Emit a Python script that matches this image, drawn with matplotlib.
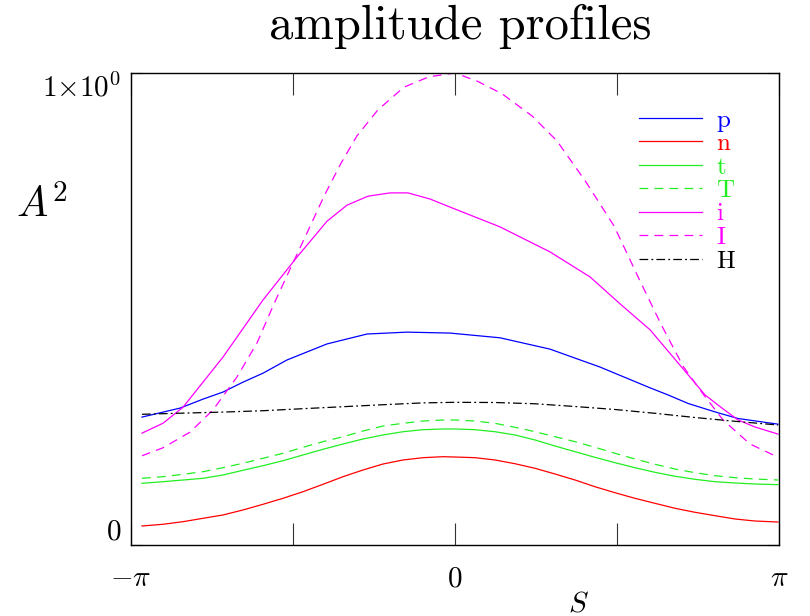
import matplotlib
matplotlib.use('Agg')
import matplotlib.pyplot as plt
import numpy as np

plt.rcParams['mathtext.fontset'] = 'cm'
plt.rcParams['font.family'] = ['cmr10', 'DejaVu Serif']

# common S grid for the smooth curves
s = [-3.035, -2.831, -2.637, -2.443, -2.250, -2.056, -1.862, -1.668,
     -1.474, -1.280, -1.086, -0.892, -0.698, -0.504, -0.310, -0.116,
     0.000, 0.194, 0.388, 0.582, 0.776, 0.970, 1.164, 1.357,
     1.551, 1.745, 1.939, 2.133, 2.327, 2.521, 2.715, 2.909, 3.132]
n_amp = [0.0403, 0.0439, 0.0494, 0.0566, 0.0636, 0.0742, 0.0862, 0.0989,
         0.1129, 0.1286, 0.1447, 0.1589, 0.1716, 0.1801, 0.1850, 0.1871,
         0.1864, 0.1850, 0.1801, 0.1722, 0.1625, 0.1504, 0.1377, 0.1235,
         0.1108, 0.0989, 0.0883, 0.0778, 0.0693, 0.0621, 0.0551, 0.0508, 0.0487]
t_amp = [0.1307, 0.1341, 0.1377, 0.1413, 0.1483, 0.1583, 0.1680, 0.1786,
         0.1907, 0.2028, 0.2140, 0.2246, 0.2331, 0.2400, 0.2443, 0.2458,
         0.2458, 0.2443, 0.2400, 0.2331, 0.2225, 0.2097, 0.1977, 0.1858,
         0.1744, 0.1638, 0.1540, 0.1456, 0.1392, 0.1341, 0.1314, 0.1292, 0.1278]
T_amp = [0.1413, 0.1447, 0.1498, 0.1553, 0.1638, 0.1731, 0.1837, 0.1943,
         0.2070, 0.2189, 0.2294, 0.2415, 0.2521, 0.2578, 0.2627, 0.2648,
         0.2648, 0.2627, 0.2578, 0.2494, 0.2400, 0.2294, 0.2189, 0.2070,
         0.1943, 0.1822, 0.1710, 0.1610, 0.1532, 0.1468, 0.1426, 0.1398, 0.1377]

s_H = [-3.035, -2.637, -2.250, -1.862, -1.474, -1.086, -0.698, -0.310,
       0.000, 0.388, 0.776, 1.164, 1.551, 1.939, 2.327, 2.715, 3.132]
H_amp = [0.2769, 0.2794, 0.2816, 0.2845, 0.2888, 0.2930, 0.2972, 0.3011,
         0.3023, 0.3019, 0.2992, 0.2934, 0.2871, 0.2790, 0.2701, 0.2621, 0.2542]

s_p = [-3.035, -2.667, -2.444, -2.250, -2.056, -1.862, -1.629, -1.435,
       -1.241, -0.853, -0.465, -0.049, 0.436, 0.921, 1.406, 1.891,
       2.065, 2.259, 2.521, 2.744, 3.132]
p_amp = [0.271, 0.290, 0.309, 0.324, 0.345, 0.364, 0.392, 0.409,
         0.426, 0.447, 0.451, 0.449, 0.439, 0.415, 0.377, 0.333,
         0.318, 0.300, 0.282, 0.268, 0.256]

s_i = [-3.035, -2.831, -2.637, -2.250, -1.862, -1.532, -1.241,
       -1.047, -0.844, -0.630, -0.456, -0.242, -0.049, 0.436, 0.921,
       1.309, 1.600, 1.891, 2.278, 2.424, 2.589, 2.744, 2.909, 3.132]
i_amp = [0.237, 0.258, 0.292, 0.398, 0.519, 0.610, 0.686,
         0.720, 0.739, 0.746, 0.746, 0.733, 0.716, 0.674, 0.621,
         0.568, 0.511, 0.456, 0.356, 0.318, 0.290, 0.265, 0.250, 0.235]

s_I = [-3.035, -2.831, -2.570, -2.347, -2.114, -1.920, -1.755, -1.590,
       -1.435, -1.270, -1.105, -0.950, -0.747, -0.495, -0.252, 0.000,
       0.213, 0.456, 0.747, 0.989, 1.270, 1.542, 1.784, 1.997,
       2.211, 2.405, 2.599, 2.860, 3.132]
I_amp = [0.189, 0.206, 0.239, 0.286, 0.356, 0.428, 0.511, 0.589,
         0.661, 0.739, 0.809, 0.867, 0.922, 0.970, 0.992, 1.000,
         0.983, 0.956, 0.909, 0.856, 0.769, 0.676, 0.564, 0.468,
         0.379, 0.320, 0.265, 0.214, 0.186]

fig = plt.figure(figsize=(8.1, 6.16), dpi=100)
ax = fig.add_axes([131/810, 71/616, 648/810, 472/616])

lw = 0.9
green = '#22ee22'
ax.plot(s_p, p_amp, color='#0000ff', lw=lw, label='p')
ax.plot(s, n_amp, color='#ff0000', lw=lw, label='n')
ax.plot(s, t_amp, color=green, lw=lw, label='t')
ax.plot(s, T_amp, color=green, lw=lw, dashes=(7, 5), label='T')
ax.plot(s_i, i_amp, color='#ff00ff', lw=lw, label='i')
ax.plot(s_I, I_amp, color='#ff00ff', lw=lw, dashes=(7, 5), label='I')
ax.plot(s_H, H_amp, color='black', lw=lw, dashes=(7, 2.5, 1.5, 2.5), label='H')

ax.set_xlim(-np.pi, np.pi)
ax.set_ylim(0, 1)

ax.set_xticks(np.arange(-2, 3) * np.pi / 2)
ax.set_xticklabels([r'$-\pi$', '', r'$0$', '', r'$\pi$'], fontsize=21)
ax.tick_params(axis='x', direction='in', length=16, width=0.8,
               top=True, pad=15, color='#333333')
ax.set_yticks([0, 1])
ax.set_yticklabels([r'$0$', r'$1{\times}10^0$'], fontsize=21)
ax.tick_params(axis='y', direction='in', length=8, width=0.8,
               right=True, pad=7)
ylabs = ax.get_yticklabels()
ylabs[0].set_verticalalignment('bottom')
ylabs[1].set_verticalalignment('top')
for sp in ax.spines.values():
    sp.set_linewidth(1.0)

fig.text(460/810, 1 - 39/616, 'amplitude profiles', fontsize=35,
         ha='center', va='baseline')
fig.text(42/810, 1 - 205/616, r'$A^2$', fontsize=30, ha='center', va='center')
fig.text(578/810, 1 - 604/616, r'$S$', fontsize=21, ha='center', va='center')

leg = ax.legend(loc='upper left', bbox_to_anchor=(639/810, 1 - 109/616),
                bbox_transform=fig.transFigure, frameon=False, fontsize=18,
                handlelength=2.5, handletextpad=0.6, labelspacing=0.04,
                borderpad=0, borderaxespad=0, labelcolor='linecolor')

fig.savefig('out.png', dpi=100)
